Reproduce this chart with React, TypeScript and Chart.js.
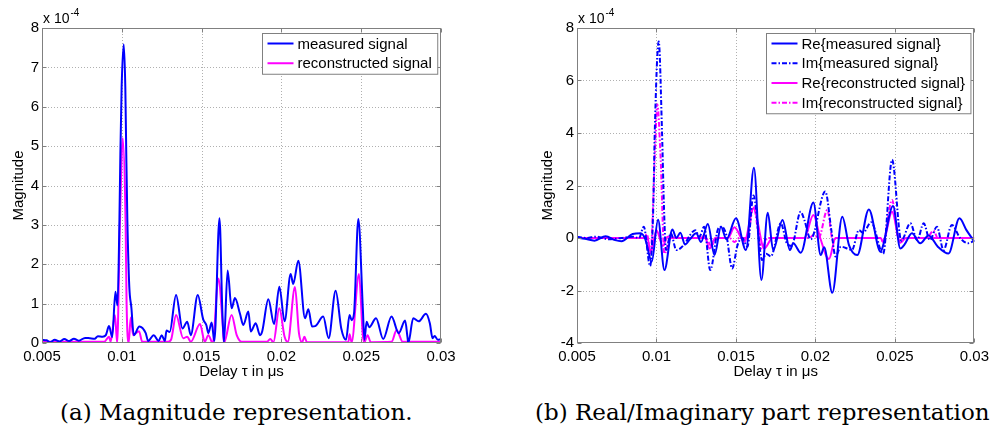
import React, { useEffect, useRef } from "react";
import { Chart, registerables } from "chart.js";
Chart.register(...registerables);

// ---------- axis ticks ----------
const xTicks = [0.005, 0.01, 0.015, 0.02, 0.025, 0.03];
const xTickLabels = ["0.005", "0.01", "0.015", "0.02", "0.025", "0.03"];
const magYTicks = [0, 1, 2, 3, 4, 5, 6, 7, 8];
const riYTicks = [-4, -2, 0, 2, 4, 6, 8];
const yExponent = "-4"; // values are in units of 10^-4

// ---------- (a) magnitude: measured signal ----------
const magMeasX = [0.005, 0.0053, 0.0055, 0.0058, 0.0061, 0.0064, 0.0067, 0.007, 0.0073, 0.0077, 0.008, 0.0083, 0.0085, 0.0088, 0.009, 0.0092, 0.0094, 0.0096, 0.00973, 0.00985, 0.00991, 0.00999, 0.01012, 0.01022, 0.01028, 0.01035, 0.01047, 0.0106, 0.01075, 0.0111, 0.0115, 0.01165, 0.012, 0.0123, 0.0125, 0.0127, 0.0128, 0.013, 0.0134, 0.0138, 0.0141, 0.01432, 0.01476, 0.0151, 0.0153, 0.01542, 0.01563, 0.0158, 0.01612, 0.0163, 0.0164, 0.01663, 0.01688, 0.01709, 0.0174, 0.01761, 0.01793, 0.01808, 0.01839, 0.01866, 0.0188, 0.01918, 0.01954, 0.01987, 0.0202, 0.02058, 0.02074, 0.02106, 0.02148, 0.02169, 0.02192, 0.02212, 0.02262, 0.02296, 0.0234, 0.02375, 0.02405, 0.02427, 0.0244, 0.02455, 0.02482, 0.0251, 0.0252, 0.02534, 0.0255, 0.02593, 0.02638, 0.0269, 0.02735, 0.02775, 0.0279, 0.02795, 0.02826, 0.0286, 0.02906, 0.0293, 0.02947, 0.0296, 0.0298, 0.03];
const magMeasY = [0.08, 0.07, 0.02, 0.08, 0.04, 0.1, 0.05, 0.11, 0.06, 0.13, 0.12, 0.11, 0.17, 0.16, 0.2, 0.43, 0.15, 1.3, 0.95, 3.1, 4.8, 6.5, 7.59, 6.5, 4.8, 3.1, 1.43, 0.9, 0.2, 0.42, 0.25, 0.05, 0.2, 0.05, 0.2, 0.05, 0.32, 0.28, 1.22, 0.37, 0.54, 0.2, 1.22, 0.6, 0.45, 0.25, 0.52, 0.05, 3.17, 0.8, 0.02, 1.84, 0.88, 1.14, 0.75, 0.46, 0.8, 0.29, 0.5, 0.2, 0.3, 1.11, 0.48, 1.43, 0.55, 1.75, 1.5, 2.09, 0.63, 0.86, 0.42, 0.43, 0.67, 0.12, 1.33, 0.37, 0.08, 0.71, 0.58, 0.75, 3.15, 0.9, 0.08, 0.54, 0.4, 0.63, 0.1, 0.67, 0.25, 0.57, 0.15, 0.0, 0.63, 0.55, 0.74, 0.5, 0.12, 0.18, 0.08, 0.1];

// ---------- (a) magnitude: reconstructed signal ----------
const magRecX = [0.005, 0.0089, 0.0092, 0.0093, 0.00957, 0.00971, 0.00988, 0.01006, 0.01024, 0.0103, 0.01043, 0.01056, 0.01071, 0.01108, 0.01128, 0.0129, 0.0131, 0.0134, 0.01385, 0.0141, 0.01432, 0.0149, 0.0152, 0.01542, 0.0157, 0.01605, 0.01633, 0.0164, 0.01688, 0.0172, 0.01752, 0.0191, 0.0193, 0.0195, 0.01987, 0.0202, 0.0204, 0.02085, 0.0211, 0.0213, 0.02144, 0.0216, 0.0242, 0.02427, 0.0244, 0.02486, 0.0251, 0.0252, 0.0254, 0.0256, 0.0269, 0.02722, 0.0276, 0.03];
const magRecY = [0.03, 0.03, 0.16, 0.03, 0.71, 0.0, 3.0, 5.2, 3.0, 1.0, 0.0, 0.65, 0.2, 0.3, 0.03, 0.03, 0.1, 0.71, 0.12, 0.16, 0.03, 0.48, 0.03, 0.2, 0.0, 1.64, 0.42, 0.0, 0.71, 0.2, 0.03, 0.03, 0.1, 0.02, 0.88, 0.16, 0.03, 1.42, 0.25, 0.02, 0.16, 0.02, 0.02, 0.22, 0.02, 1.75, 0.2, 0.02, 0.2, 0.02, 0.03, 0.33, 0.03, 0.03];

// ---------- (b) Re{measured signal} ----------
const reMeasX = [0.005, 0.0055, 0.0061, 0.0068, 0.0074, 0.0078, 0.0085, 0.009, 0.0093, 0.0097, 0.0101, 0.0105, 0.011, 0.01125, 0.0115, 0.0118, 0.0121, 0.0125, 0.0128, 0.01323, 0.01365, 0.01406, 0.0144, 0.015, 0.01563, 0.01613, 0.0166, 0.017, 0.01734, 0.01793, 0.0184, 0.0186, 0.01908, 0.01987, 0.02033, 0.02055, 0.02106, 0.02169, 0.02211, 0.02263, 0.02336, 0.02409, 0.02425, 0.02488, 0.02534, 0.0256, 0.02607, 0.02659, 0.02712, 0.0277, 0.02837, 0.02906, 0.0295, 0.03];
const reMeasY = [0.02, -0.03, -0.1, 0.07, -0.08, -0.12, 0.15, 0.18, -0.05, -0.9, 0.7, -1.22, 0.32, 0.0, 0.2, -0.25, -0.05, 0.18, -0.15, 0.53, -0.65, 0.43, -0.05, 0.75, -0.46, 2.68, -1.6, 0.96, -0.46, 0.69, -0.46, -0.2, -0.56, 1.35, -0.65, -0.35, -2.09, 0.81, -0.27, -0.65, 1.09, -0.52, -0.3, 1.22, -0.4, -0.25, 0.18, -0.2, 0.1, -0.33, -0.59, 0.75, 0.3, -0.14];

// ---------- (b) Im{measured signal} ----------
const imMeasX = [0.005, 0.0056, 0.0062, 0.007, 0.0078, 0.0085, 0.0089, 0.0092, 0.0096, 0.0098, 0.00989, 0.01014, 0.01035, 0.01047, 0.0106, 0.0109, 0.01125, 0.0118, 0.0121, 0.01244, 0.0127, 0.013, 0.01338, 0.01388, 0.0141, 0.0144, 0.01476, 0.0151, 0.0154, 0.01572, 0.0161, 0.01665, 0.0169, 0.0172, 0.01782, 0.0182, 0.0185, 0.01907, 0.0193, 0.0197, 0.02062, 0.021, 0.02126, 0.0216, 0.0223, 0.02273, 0.023, 0.0235, 0.02426, 0.02482, 0.0254, 0.02597, 0.0264, 0.02681, 0.0272, 0.02764, 0.02806, 0.02858, 0.0291, 0.0296, 0.03];
const imMeasY = [0.05, 0.0, 0.05, -0.05, 0.0, 0.05, 0.0, 0.43, -1.07, 1.2, 4.0, 7.49, 4.0, 1.2, -0.46, 0.18, -0.46, -0.2, 0.1, 0.3, 0.05, 0.43, -1.22, 0.35, 0.43, 0.1, -1.16, -0.27, 0.0, -0.33, 1.62, -0.84, -0.6, -0.7, 0.56, -0.2, -0.3, 1.0, 0.69, -0.05, 1.77, 0.3, -0.7, -0.33, -0.45, 0.3, 0.2, 0.6, -0.6, 2.98, -0.1, 0.56, -0.08, 0.56, -0.08, 0.43, -0.46, 0.5, 0.0, -0.2, -0.1];

// ---------- (b) Re{reconstructed signal} ----------
const reRecX = [0.005, 0.0092, 0.0094, 0.00964, 0.01, 0.0104, 0.0107, 0.0112, 0.0128, 0.013, 0.01335, 0.0137, 0.0145, 0.0149, 0.01553, 0.01611, 0.01678, 0.0173, 0.0193, 0.01987, 0.0203, 0.02085, 0.02127, 0.0241, 0.02425, 0.02482, 0.02534, 0.0257, 0.03];
const reRecY = [0.0, 0.0, 0.08, -0.55, 0.3, -0.3, 0.05, 0.0, 0.0, 0.1, -0.4, 0.0, 0.0, 0.41, -0.14, 1.13, -0.4, 0.0, 0.0, 0.88, 0.0, -0.8, 0.0, 0.0, -0.15, 1.0, -0.18, 0.0, 0.0];

// ---------- (b) Im{reconstructed signal} ----------
const imRecX = [0.005, 0.0092, 0.0094, 0.00962, 0.0099, 0.01005, 0.01025, 0.0105, 0.0109, 0.0131, 0.01345, 0.0138, 0.0146, 0.0149, 0.0152, 0.0157, 0.0161, 0.0166, 0.017, 0.0196, 0.0199, 0.0202, 0.02075, 0.0211, 0.0213, 0.0241, 0.02425, 0.02482, 0.02525, 0.0256, 0.027, 0.02743, 0.0277, 0.03];
const imRecY = [0.0, 0.0, 0.15, -0.65, 3.2, 5.1, 3.2, -0.6, 0.0, 0.0, -0.3, 0.0, 0.0, -0.15, 0.0, 0.0, 1.2, -0.4, 0.0, 0.0, 0.12, 0.0, 1.07, -0.1, 0.0, 0.0, -0.15, 1.45, -0.1, 0.0, 0.0, 0.28, 0.0, 0.0];

const BLUE = "#0000ff";
const MAGENTA = "#ff00ff";
const DASHDOT = [5, 2, 1.5, 2];
const SANS = '"Liberation Sans", Arial, sans-serif';

const toPoints = (xs: number[], ys: number[]) => xs.map((x, i) => ({ x, y: ys[i] }));

type LegendItem = { label: string; color: string; dash: number[] };

function makeFramePlugin(yTicks: number[], legend: LegendItem[]) {
  return {
    id: "matlabFrame",
    beforeDatasetsDraw(chart: any) {
      const { ctx, chartArea: a, scales } = chart;
      ctx.save();
      ctx.strokeStyle = "#b0b0b0";
      ctx.lineWidth = 1;
      ctx.setLineDash([1, 2]);
      for (const v of xTicks) {
        const px = Math.round(scales.x.getPixelForValue(v)) + 0.5;
        if (px <= a.left + 1 || px >= a.right - 1) continue;
        ctx.beginPath();
        ctx.moveTo(px, a.top);
        ctx.lineTo(px, a.bottom);
        ctx.stroke();
      }
      for (const v of yTicks) {
        const py = Math.round(scales.y.getPixelForValue(v)) + 0.5;
        if (py <= a.top + 1 || py >= a.bottom - 1) continue;
        ctx.beginPath();
        ctx.moveTo(a.left, py);
        ctx.lineTo(a.right, py);
        ctx.stroke();
      }
      ctx.restore();
    },
    afterDatasetsDraw(chart: any) {
      const { ctx, chartArea: a, scales } = chart;
      ctx.save();
      // frame
      ctx.strokeStyle = "#808080";
      ctx.lineWidth = 1;
      ctx.setLineDash([]);
      const L = Math.round(a.left) + 0.5;
      const R = Math.round(a.right) - 0.5;
      const T = Math.round(a.top) + 0.5;
      const B = Math.round(a.bottom) - 0.5;
      ctx.strokeRect(L, T, R - L, B - T);
      const tl = 4;
      ctx.beginPath();
      for (const v of xTicks) {
        const px = Math.round(scales.x.getPixelForValue(v)) + 0.5;
        ctx.moveTo(px, B);
        ctx.lineTo(px, B - tl);
        ctx.moveTo(px, T);
        ctx.lineTo(px, T + tl);
      }
      for (const v of yTicks) {
        const py = Math.round(scales.y.getPixelForValue(v)) + 0.5;
        ctx.moveTo(L, py);
        ctx.lineTo(L + tl, py);
        ctx.moveTo(R, py);
        ctx.lineTo(R - tl, py);
      }
      ctx.stroke();

      // exponent label
      ctx.fillStyle = "#000";
      ctx.textBaseline = "alphabetic";
      ctx.textAlign = "left";
      ctx.font = `14px ${SANS}`;
      const base = "x 10";
      ctx.fillText(base, a.left + 1, a.top - 5);
      const bw = ctx.measureText(base).width;
      ctx.font = `10px ${SANS}`;
      ctx.fillText(yExponent, a.left + 2 + bw, a.top - 12);

      // legend
      ctx.font = `15px ${SANS}`;
      let maxW = 0;
      for (const it of legend) maxW = Math.max(maxW, ctx.measureText(it.label).width);
      const lineLen = 26;
      const w = 5 + lineLen + 4 + maxW + 6;
      const rowH = 19.75;
      const h = 10 + (legend.length - 1) * rowH + 11;
      const bx = Math.round(a.right - 4 - w) + 0.5;
      const by = Math.round(a.top + 5) + 0.5;
      ctx.fillStyle = "#fff";
      ctx.fillRect(bx, by, w, h);
      ctx.strokeStyle = "#808080";
      ctx.strokeRect(bx, by, w, h);
      legend.forEach((it, i) => {
        const cy = by + 10 + i * rowH;
        ctx.strokeStyle = it.color;
        ctx.lineWidth = 2;
        ctx.setLineDash(it.dash);
        ctx.beginPath();
        ctx.moveTo(bx + 5, cy);
        ctx.lineTo(bx + 5 + lineLen, cy);
        ctx.stroke();
        ctx.setLineDash([]);
        ctx.fillStyle = "#000";
        ctx.textBaseline = "middle";
        ctx.fillText(it.label, bx + 5 + lineLen + 4, cy + 1);
      });
      ctx.restore();
    },
  };
}

function makeOptions(yTicks: number[], yAxisWidth: number, rightPad: number, yTitlePad: number) {
  return {
    animation: false as const,
    responsive: false,
    layout: { padding: { top: 28, right: rightPad, bottom: 0, left: 0 } },
    elements: {
      point: { radius: 0 },
      line: { borderWidth: 2, tension: 0, cubicInterpolationMode: "monotone" as const },
    },
    plugins: { legend: { display: false }, tooltip: { enabled: false } },
    scales: {
      x: {
        type: "linear" as const,
        min: xTicks[0],
        max: xTicks[xTicks.length - 1],
        afterBuildTicks: (s: any) => {
          s.ticks = xTicks.map((v) => ({ value: v }));
        },
        afterFit: (s: any) => {
          s.height = 42;
        },
        grid: { display: false, drawTicks: false },
        border: { display: false },
        ticks: {
          autoSkip: false,
          maxRotation: 0,
          padding: 5,
          color: "#000",
          font: { family: SANS, size: 15 },
          callback: (v: number) => {
            const i = xTicks.findIndex((t) => Math.abs(t - v) < 1e-9);
            return i >= 0 ? xTickLabels[i] : "";
          },
        },
        title: {
          display: true,
          text: "Delay τ in μs",
          color: "#000",
          font: { family: SANS, size: 15 },
          padding: { top: 0, bottom: 4 },
        },
      },
      y: {
        type: "linear" as const,
        min: yTicks[0],
        max: yTicks[yTicks.length - 1],
        afterBuildTicks: (s: any) => {
          s.ticks = yTicks.map((v) => ({ value: v }));
        },
        afterFit: (s: any) => {
          s.width = yAxisWidth;
        },
        grid: { display: false, drawTicks: false },
        border: { display: false },
        ticks: {
          autoSkip: false,
          padding: 3,
          color: "#000",
          font: { family: SANS, size: 15 },
          callback: (v: number) => String(v),
        },
        title: {
          display: true,
          text: "Magnitude",
          color: "#000",
          font: { family: SANS, size: 15 },
          padding: { top: yTitlePad, bottom: 0 },
        },
      },
    },
  };
}

function MagnitudeChart() {
  const ref = useRef<HTMLCanvasElement>(null);
  useEffect(() => {
    const legend: LegendItem[] = [
      { label: "measured signal", color: BLUE, dash: [] },
      { label: "reconstructed signal", color: MAGENTA, dash: [] },
    ];
    const chart = new Chart(ref.current!, {
      type: "line",
      data: {
        datasets: [
          { label: "measured signal", data: toPoints(magMeasX, magMeasY), borderColor: BLUE, borderWidth: 2 },
          { label: "reconstructed signal", data: toPoints(magRecX, magRecY), borderColor: MAGENTA, borderWidth: 2 },
        ],
      },
      options: makeOptions(magYTicks, 42, 29, 10) as any,
      plugins: [makeFramePlugin(magYTicks, legend)],
    });
    return () => chart.destroy();
  }, []);
  return <canvas ref={ref} width={470} height={385} style={{ position: "absolute", left: 0, top: 0 }} />;
}

function ReImChart() {
  const ref = useRef<HTMLCanvasElement>(null);
  useEffect(() => {
    const legend: LegendItem[] = [
      { label: "Re{measured signal}", color: BLUE, dash: [] },
      { label: "Im{measured signal}", color: BLUE, dash: DASHDOT },
      { label: "Re{reconstructed signal}", color: MAGENTA, dash: [] },
      { label: "Im{reconstructed signal}", color: MAGENTA, dash: DASHDOT },
    ];
    const chart = new Chart(ref.current!, {
      type: "line",
      data: {
        datasets: [
          { label: "Im{measured signal}", data: toPoints(imMeasX, imMeasY), borderColor: BLUE, borderWidth: 2, borderDash: DASHDOT },
          { label: "Re{measured signal}", data: toPoints(reMeasX, reMeasY), borderColor: BLUE, borderWidth: 2 },
          { label: "Re{reconstructed signal}", data: toPoints(reRecX, reRecY), borderColor: MAGENTA, borderWidth: 2 },
          { label: "Im{reconstructed signal}", data: toPoints(imRecX, imRecY), borderColor: MAGENTA, borderWidth: 2, borderDash: DASHDOT },
        ],
      },
      options: makeOptions(riYTicks, 77, 18, 39) as any,
      plugins: [makeFramePlugin(riYTicks, legend)],
    });
    return () => chart.destroy();
  }, []);
  return <canvas ref={ref} width={494} height={385} style={{ position: "absolute", left: 500, top: 0 }} />;
}

const captionStyle: React.CSSProperties = {
  position: "absolute",
  top: 397,
  fontFamily: '"DejaVu Serif", "Liberation Serif", serif',
  fontSize: 23,
  lineHeight: "30px",
  whiteSpace: "nowrap",
  color: "#000",
};

export default function App() {
  return (
    <div style={{ position: "absolute", left: 0, top: 0, width: 994, height: 434, overflow: "hidden", background: "#fff" }}>
      <MagnitudeChart />
      <ReImChart />
      <div style={{ ...captionStyle, left: 60 }}>(a) Magnitude representation.</div>
      <div style={{ ...captionStyle, left: 535 }}>(b) Real/Imaginary part representation</div>
    </div>
  );
}
